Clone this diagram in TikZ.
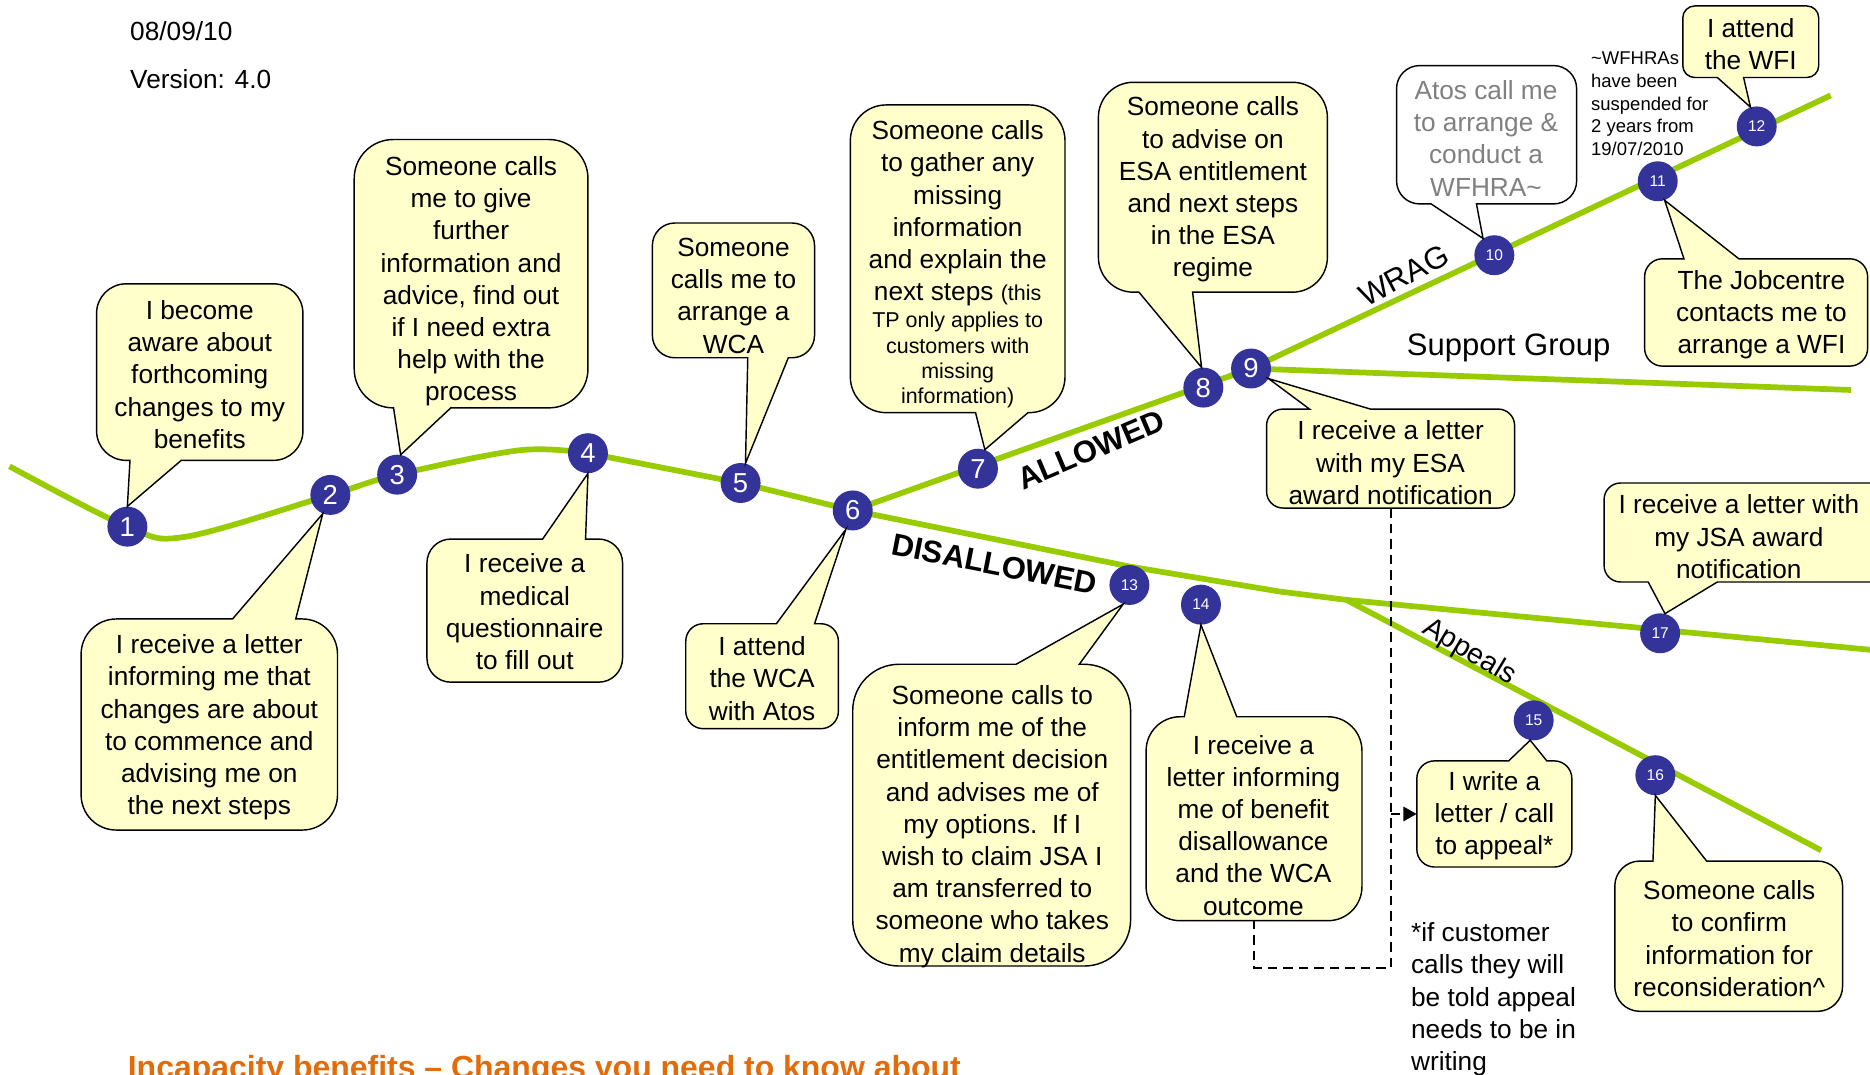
\documentclass[tikz,border=0pt]{standalone}
\usepackage{fontspec}
\setmainfont{Liberation Sans}
\usetikzlibrary{arrows.meta}
\definecolor{lgreen}{RGB}{153,204,0}
\definecolor{nblue}{RGB}{51,51,153}
\definecolor{byellow}{RGB}{255,255,204}
\definecolor{ttlorange}{RGB}{227,108,10}
\definecolor{tgray}{RGB}{128,128,128}
\tikzset{
  glin/.style={draw=lgreen,line width=4.8pt},
  stepnum/.style={circle,fill=nblue,text=white,minimum size=33.5pt,inner sep=0pt,font=\fontsize{23}{23}\selectfont},
  smallnum/.style={stepnum,font=\fontsize{13}{13}\selectfont},
  bub/.style={draw=black,line width=1.2pt},
  boxnode/.style={inner sep=0pt,draw=none},
  btext/.style={align=center,inner sep=0pt,font=\fontsize{22}{27}\selectfont},
  stext/.style={align=center,inner sep=0pt,font=\fontsize{18}{21.3}\selectfont},
  lbl/.style={inner sep=0pt,font=\fontsize{26}{26}\selectfont},
  blbl/.style={inner sep=0pt,font=\fontsize{26}{26}\selectfont\bfseries},
  dashline/.style={draw=black,line width=1.7pt,dash pattern=on 8pt off 5pt},
}
% bubble with pointer on bottom edge: name, L, T, R, B, a, b, tip, fill
\newcommand\bubB[9]{%
  \pgfmathsetmacro\bbr{min(#4-#2,#5-#3)/6}%
  \filldraw[bub,fill=#9] ({#2+\bbr},#3) -- ({#4-\bbr},#3)
    arc[start angle=270,end angle=360,radius=\bbr] -- (#4,{#5-\bbr})
    arc[start angle=0,end angle=90,radius=\bbr] -- (#7,#5) -- #8 -- (#6,#5) -- ({#2+\bbr},#5)
    arc[start angle=90,end angle=180,radius=\bbr] -- (#2,{#3+\bbr})
    arc[start angle=180,end angle=270,radius=\bbr] -- cycle;
  \pgfmathsetmacro\bbw{#4-#2}\pgfmathsetmacro\bbh{#5-#3}%
  \node[boxnode,minimum width=\bbw pt,minimum height=\bbh pt] (#1) at ({(#2+#4)/2},{(#3+#5)/2}) {};
}
% bubble with pointer on top edge
\newcommand\bubT[9]{%
  \pgfmathsetmacro\bbr{min(#4-#2,#5-#3)/6}%
  \filldraw[bub,fill=#9] ({#2+\bbr},#3) -- (#6,#3) -- #8 -- (#7,#3) -- ({#4-\bbr},#3)
    arc[start angle=270,end angle=360,radius=\bbr] -- (#4,{#5-\bbr})
    arc[start angle=0,end angle=90,radius=\bbr] -- ({#2+\bbr},#5)
    arc[start angle=90,end angle=180,radius=\bbr] -- (#2,{#3+\bbr})
    arc[start angle=180,end angle=270,radius=\bbr] -- cycle;
  \pgfmathsetmacro\bbw{#4-#2}\pgfmathsetmacro\bbh{#5-#3}%
  \node[boxnode,minimum width=\bbw pt,minimum height=\bbh pt] (#1) at ({(#2+#4)/2},{(#3+#5)/2}) {};
}
\begin{document}
\begin{tikzpicture}[x=1pt,y=-1pt]
\fill[white] (0,0) rectangle (1568,901);
\useasboundingbox (0,0) rectangle (1568,901);

% key points of the journey lines
\coordinate (p1) at (106.8,441.6);
\coordinate (p2) at (277,415);
\coordinate (p3) at (333,398);
\coordinate (p4) at (493,380);
\coordinate (p5) at (621,405);
\coordinate (p6) at (715,428);
\coordinate (p7) at (820,393);
\coordinate (p8) at (1009,325);
\coordinate (p9) at (1049,309);
\coordinate (p10) at (1253,214);
\coordinate (p11) at (1390,152);
\coordinate (p12) at (1473,106);
\coordinate (p13) at (947,490.5);
\coordinate (p14) at (1007,507);
\coordinate (p15) at (1286,604);
\coordinate (p16) at (1388,650);
\coordinate (p17) at (1392,531);
\coordinate (start) at (8,391);
\coordinate (wragend) at (1535,80);
\coordinate (sgend) at (1552,327);
\coordinate (d1) at (947,475);
\coordinate (d2) at (1073,496);
\coordinate (fork) at (1129,503);
\coordinate (disend) at (1575,545.5);
\coordinate (append) at (1527,713);

% green lines
\draw[glin] plot[smooth,tension=0.55] coordinates {(8,391) (106.8,441.6) (156,450) (277,415) (333,398) (436,377.5) (493,380)} -- (p5) -- (p6);
\draw[glin] (p6) -- (p9) -- (wragend);
\draw[glin] (p9) -- (sgend);
\draw[glin] (p6) -- (d1) -- (d2) -- (fork) -- (disend);
\draw[glin] (fork) -- (append);

% numbered steps
\foreach \i in {1,...,9} \node[stepnum] (n\i) at (p\i) {\i};
\foreach \i in {10,...,17} \node[smallnum] (n\i) at (p\i) {\i};

% bubbles
\bubB{b1}{81}{238}{254}{386}{109}{152}{(n1.north)}{byellow}
\bubT{b2}{68}{519}{283}{696}{195}{248}{(n2.-112)}{byellow}
\bubB{b3}{297}{117}{493}{342}{330}{378}{(n3.80)}{byellow}
\bubT{b4}{358}{452}{522}{572}{455}{491}{(n4.south)}{byellow}
\bubB{b5}{547}{187}{683}{300}{627}{661}{(n5.76)}{byellow}
\bubT{b6}{575}{523}{703}{611}{651}{683}{(n6.-110)}{byellow}
\bubB{b7}{713}{88}{893}{346}{818}{862}{(n7.70)}{byellow}
\bubB{b8}{921}{69}{1113}{245}{955}{1000}{(n8.95)}{byellow}
\bubT{b9}{1062}{343}{1270}{426}{1098}{1149}{(n9.-30)}{byellow}
\bubB{b10}{1171}{55}{1322}{171}{1200}{1238}{(n10.124)}{white}
\bubT{b11}{1379}{217}{1566}{307}{1412}{1458}{(n11.-70)}{byellow}
\bubB{b12}{1411}{5}{1525}{65}{1440}{1462}{(n12.108)}{byellow}
\bubT{b13}{715}{557}{948}{810}{852}{905}{(n13.-108)}{byellow}
\bubT{b14}{961}{601}{1142}{772}{993}{1037}{(n14.south)}{byellow}
\bubT{b15}{1188}{638}{1318}{727}{1265}{1297}{(n15.-100)}{byellow}
\bubT{b16}{1354}{722}{1545}{848}{1386}{1431}{(n16.south)}{byellow}
\bubB{b17}{1345}{405}{1585}{488}{1382}{1440}{(n17.76)}{byellow}

% bubble texts
\node[btext] (c1) at (167.5,314) {I become\\aware about\\forthcoming\\changes to my\\benefits};
\node[btext] (c2) at (175.5,610) {I receive a letter\\informing me that\\changes are about\\to commence and\\advising me on\\the next steps};
\node[btext] (c3) at (395,236) {Someone calls\\me to give\\further\\information and\\advice, find out\\if I need extra\\help with the\\process};
\node[btext] (c4) at (440,513) {I receive a\\medical\\questionnaire\\to fill out};
\node[btext] (c5) at (615,248) {Someone\\calls me to\\arrange a\\WCA};
\node[btext] (c6) at (639,569) {I attend\\the WCA\\with Atos};
\node[btext] (c7) at (803,179) {Someone calls\\to gather any\\missing\\information\\and explain the\\next steps {\fontsize{18}{21}\selectfont(this}};
\node[stext] (c7b) at (803,302) {TP only applies to\\customers with\\missing\\information)};
\node[btext] (c8) at (1017,159) {Someone calls\\to advise on\\ESA entitlement\\and next steps\\in the ESA\\regime};
\node[btext] (c9) at (1166,388) {I receive a letter\\with my ESA\\award notification};
\node[btext,text=tgray] (c10) at (1246,116) {Atos call me\\to arrange \&\\conduct a\\WFHRA\textasciitilde};
\node[btext] (c11) at (1477,264) {The Jobcentre\\contacts me to\\arrange a WFI};
\node[btext] (c12) at (1468,37) {I attend\\the WFI};
\node[btext] (c13) at (832,693) {Someone calls to\\inform me of the\\entitlement decision\\and advises me of\\my options.\ \ If I\\wish to claim JSA I\\am transferred to\\someone who takes\\my claim details};
\node[btext] (c14) at (1051,692) {I receive a\\letter informing\\me of benefit\\disallowance\\and the WCA\\outcome};
\node[btext] (c15) at (1253,684) {I write a\\letter / call\\to appeal*};
\node[btext] (c16) at (1450,787) {Someone calls\\to confirm\\information for\\reconsideration\textasciicircum};
\node[btext] (c17) at (1458,450) {I receive a letter with\\my JSA award\\notification};

% dashed connectors
\coordinate (dj) at (1166,812);
\draw[dashline] (b9.south) -- (dj) -| (b14.south);
\draw[dashline,-{Triangle[length=11pt,width=12pt]}] (b9.south |- b15.west) -- (b15.west);

% line labels
\node[blbl,rotate=23] (allowed) at (915,377) {ALLOWED};
\node[blbl,rotate=-11] (disallowed) at (834,473) {DISALLOWED};
\node[lbl,rotate=28] (wrag) at (1177,231) {WRAG};
\node[lbl] (support) at (1265,292) {Support Group};
\node[lbl,rotate=-31,font=\fontsize{24}{24}\selectfont] (appeals) at (1232,547) {Appeals};

% notes
\node[align=left,anchor=west,inner sep=0pt,font=\fontsize{15.5}{19}\selectfont] (wnote) at (1334,87) {\textasciitilde WFHRAs\\have been\\suspended for\\2 years from\\19/07/2010};
\node[align=left,anchor=west,inner sep=0pt,font=\fontsize{22}{27}\selectfont] (anote) at (1183,838) {*if customer\\calls they will\\be told appeal\\needs to be in\\writing};
\node[anchor=west,inner sep=0pt,font=\fontsize{22}{22}\selectfont] (date) at (109,26) {08/09/10};
\node[anchor=west,inner sep=0pt,font=\fontsize{22}{22}\selectfont] (version) at (109,66) {Version: 4.0};
\node[anchor=base west,inner sep=0pt,text=ttlorange,font=\fontsize{26.8}{26.8}\selectfont\bfseries] (title) at (107,904) {Incapacity benefits \textendash\ Changes you need to know about};
\end{tikzpicture}
\end{document}
